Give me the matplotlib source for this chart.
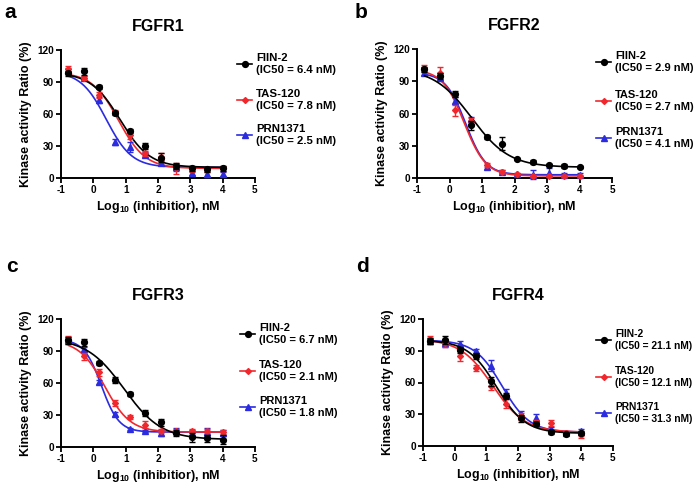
import numpy as np
import matplotlib
matplotlib.use("Agg")
import matplotlib.pyplot as plt
from matplotlib.lines import Line2D

plt.rcParams['font.family'] = ['Liberation Sans', 'DejaVu Sans']
plt.rcParams['font.weight'] = 'bold'
plt.rcParams['mathtext.fontset'] = 'custom'
plt.rcParams['mathtext.rm'] = 'Liberation Sans:bold'
plt.rcParams['mathtext.bf'] = 'Liberation Sans:bold'
plt.rcParams['mathtext.it'] = 'Liberation Sans:bold'

# ---------------- data ----------------
log_conc = [-0.77, -0.29, 0.18, 0.66, 1.14, 1.61, 2.09, 2.57, 3.05, 3.52, 4.0]
drugs = ["FIIN-2", "TAS-120", "PRN1371"]
panel_titles = ["FGFR1", "FGFR2", "FGFR3", "FGFR4"]
panel_letters = ["a", "b", "c", "d"]

# IC50 labels (nM)
ic50_fgfr1 = [6.4, 7.8, 2.5]
ic50_fgfr2 = [2.9, 2.7, 4.1]
ic50_fgfr3 = [6.7, 2.1, 1.8]
ic50_fgfr4 = [21.1, 12.1, 31.3]

# mean values (%)
fgfr1_fiin2 = [98, 100, 85, 61, 44, 30, 19, 11, 9, 8, 9]
fgfr1_tas120 = [102, 94, 78, 62, 40, 23, 20, 9, 8, 8, 9]
fgfr1_prn1371 = [101, 94, 73, 34, 29, 22, 14, 10, 5, 4, 4]
fgfr2_fiin2 = [101, 95, 78, 49, 38, 32, 18, 15, 12, 11, 10]
fgfr2_tas120 = [102, 98, 63, 53, 12, 6, 4, 2, 2, 2, 2]
fgfr2_prn1371 = [98, 93, 72, 55, 10, 6, 4, 3, 5, 3, 3]
fgfr3_fiin2 = [100, 98, 79, 63, 50, 32, 23, 13, 9, 8, 7]
fgfr3_tas120 = [101, 85, 70, 41, 28, 21, 15, 15, 15, 15, 14]
fgfr3_prn1371 = [100, 92, 61, 31, 17, 15, 13, 15, 13, 14, 13]
fgfr4_fiin2 = [99, 100, 91, 85, 61, 47, 26, 21, 13, 11, 12]
fgfr4_tas120 = [101, 97, 85, 74, 57, 40, 28, 22, 22, 12, 10]
fgfr4_prn1371 = [99, 97, 96, 90, 76, 50, 30, 26, 16, 12, 14]

# error bars (SD, %)
fgfr1_fiin2_err = [2, 3, 2, 2, 2, 3, 4, 3, 2, 2, 2]
fgfr1_tas120_err = [3, 2, 3, 2, 3, 2, 3, 5, 2, 2, 2]
fgfr1_prn1371_err = [2, 2, 3, 3, 5, 2, 2, 3, 2, 3, 2]
fgfr2_fiin2_err = [2, 3, 3, 4, 2, 6, 1, 2, 1, 2, 1]
fgfr2_tas120_err = [3, 5, 5, 3, 2, 1, 1, 1, 1, 1, 1]
fgfr2_prn1371_err = [2, 2, 3, 2, 2, 1, 1, 4, 4, 2, 2]
fgfr3_fiin2_err = [3, 3, 2, 3, 2, 3, 3, 3, 4, 3, 4]
fgfr3_tas120_err = [3, 3, 3, 3, 2, 3, 2, 2, 2, 2, 2]
fgfr3_prn1371_err = [3, 2, 2, 2, 1, 1, 3, 3, 3, 4, 3]
fgfr4_fiin2_err = [3, 4, 3, 3, 4, 3, 3, 2, 2, 1, 2]
fgfr4_tas120_err = [3, 3, 5, 3, 4, 4, 3, 3, 3, 2, 2]
fgfr4_prn1371_err = [3, 3, 3, 2, 5, 4, 3, 4, 2, 1, 2]

# fitted 4-parameter logistic curves: [top, bottom, log midpoint, hill]
fgfr1_fits = [[99, 10, 0.83, 0.95], [99, 9, 0.78, 1.05], [100, 10, 0.40, 1.1]]
fgfr2_fits = [[102, 10, 0.68, 0.75], [101, 2, 0.45, 1.3], [98, 3, 0.50, 1.4]]
fgfr3_fits = [[102, 7, 0.95, 0.75], [100, 14, 0.35, 1.1], [101, 14, 0.25, 1.6]]
fgfr4_fits = [[100, 12, 1.32, 0.95], [101, 13, 1.20, 0.85], [100, 13, 1.50, 1.0]]

x_ticks = [-1, 0, 1, 2, 3, 4, 5]
y_ticks = [0, 30, 60, 90, 120]

panels = [
    (fgfr1_fiin2, fgfr1_tas120, fgfr1_prn1371, fgfr1_fiin2_err, fgfr1_tas120_err, fgfr1_prn1371_err, fgfr1_fits, ic50_fgfr1),
    (fgfr2_fiin2, fgfr2_tas120, fgfr2_prn1371, fgfr2_fiin2_err, fgfr2_tas120_err, fgfr2_prn1371_err, fgfr2_fits, ic50_fgfr2),
    (fgfr3_fiin2, fgfr3_tas120, fgfr3_prn1371, fgfr3_fiin2_err, fgfr3_tas120_err, fgfr3_prn1371_err, fgfr3_fits, ic50_fgfr3),
    (fgfr4_fiin2, fgfr4_tas120, fgfr4_prn1371, fgfr4_fiin2_err, fgfr4_tas120_err, fgfr4_prn1371_err, fgfr4_fits, ic50_fgfr4),
]

# ---------------- style ----------------
colors = ["#000000", "#f0282d", "#2b2be0"]
markers = ["o", "D", "^"]
msizes = [4.2, 3.0, 4.2]
zorders = [5, 4, 3]

W, H = 698, 483
fig = plt.figure(figsize=(W / 100, H / 100), dpi=100)

# axes rectangles in pixels: left, top, right, bottom
rects = [(61, 50, 255, 178), (417, 49, 612, 178), (61, 319, 255, 447), (423, 319, 613, 446)]
letter_pos = [(4, 13), (355, 13), (6, 267), (356, 267)]
legend_x = [237, 596, 240, 596]
legend_y = [[64, 100, 135], [62, 101, 138], [334, 371, 407], [340, 377, 413]]
legend_fs = [8.2, 8.0, 8.0, 7.4]

def logistic(x, p):
    top, bottom, mid, hill = p
    return bottom + (top - bottom) / (1.0 + 10 ** (hill * (x - mid)))

for i, (rect, pdata) in enumerate(zip(rects, panels)):
    l, t, r, b = rect
    ax = fig.add_axes([l / W, 1 - b / H, (r - l) / W, (b - t) / H])
    means = pdata[0:3]
    errs = pdata[3:6]
    fits = pdata[6]
    ic50s = pdata[7]
    xs = np.linspace(log_conc[0], log_conc[-1], 300)
    for k in range(3):
        c = colors[k]
        ax.plot(xs, logistic(xs, fits[k]), color=c, lw=1.2, zorder=zorders[k], clip_on=False)
        ax.errorbar(log_conc, means[k], yerr=errs[k], fmt=markers[k], color=c,
                    ms=msizes[k], elinewidth=1.0, capsize=2.2, capthick=1.0,
                    zorder=zorders[k] + 1, clip_on=False)
    ax.set_xlim(-1, 5)
    ax.set_ylim(0, 120)
    ax.set_xticks(x_ticks)
    ax.set_yticks(y_ticks)
    ax.set_xticklabels([str(v) for v in x_ticks])
    ax.set_yticklabels([str(v) for v in y_ticks])
    for s in ["top", "right"]:
        ax.spines[s].set_visible(False)
    for s in ["left", "bottom"]:
        ax.spines[s].set_linewidth(1.4)
    ax.tick_params(direction="out", length=3.5, width=1.3, labelsize=7.2, pad=1.5)
    for lab in ax.get_xticklabels() + ax.get_yticklabels():
        lab.set_fontweight("bold")
    ax.set_xlabel("Log$_{10}$ (inhibitior), nM", fontsize=9, fontweight="bold", labelpad=3)
    ax.set_ylabel("Kinase activity Ratio (%)", fontsize=9, fontweight="bold", labelpad=4)
    ax.set_title(panel_titles[i], fontsize=11.5, fontweight="bold", pad=14)

    # panel letter
    lx, ly = letter_pos[i]
    fig.text(lx / W, 1 - ly / H, panel_letters[i], fontsize=15, fontweight="bold",
             ha="left", va="center")

    # legend
    x0 = legend_x[i]
    for k in range(3):
        yy = 1 - legend_y[i][k] / H
        fig.add_artist(Line2D([x0 / W, (x0 + 15) / W], [yy, yy], color=colors[k], lw=1.2,
                              transform=fig.transFigure))
        fig.add_artist(Line2D([(x0 + 7.5) / W], [yy], color=colors[k], marker=markers[k],
                              ms=msizes[k], transform=fig.transFigure))
        fig.text((x0 + 19) / W, yy, f"{drugs[k]}\n(IC50 = {ic50s[k]} nM)", fontsize=legend_fs[i],
                 fontweight="bold", ha="left", va="center", linespacing=1.2)

fig.savefig("out.png", dpi=100)
